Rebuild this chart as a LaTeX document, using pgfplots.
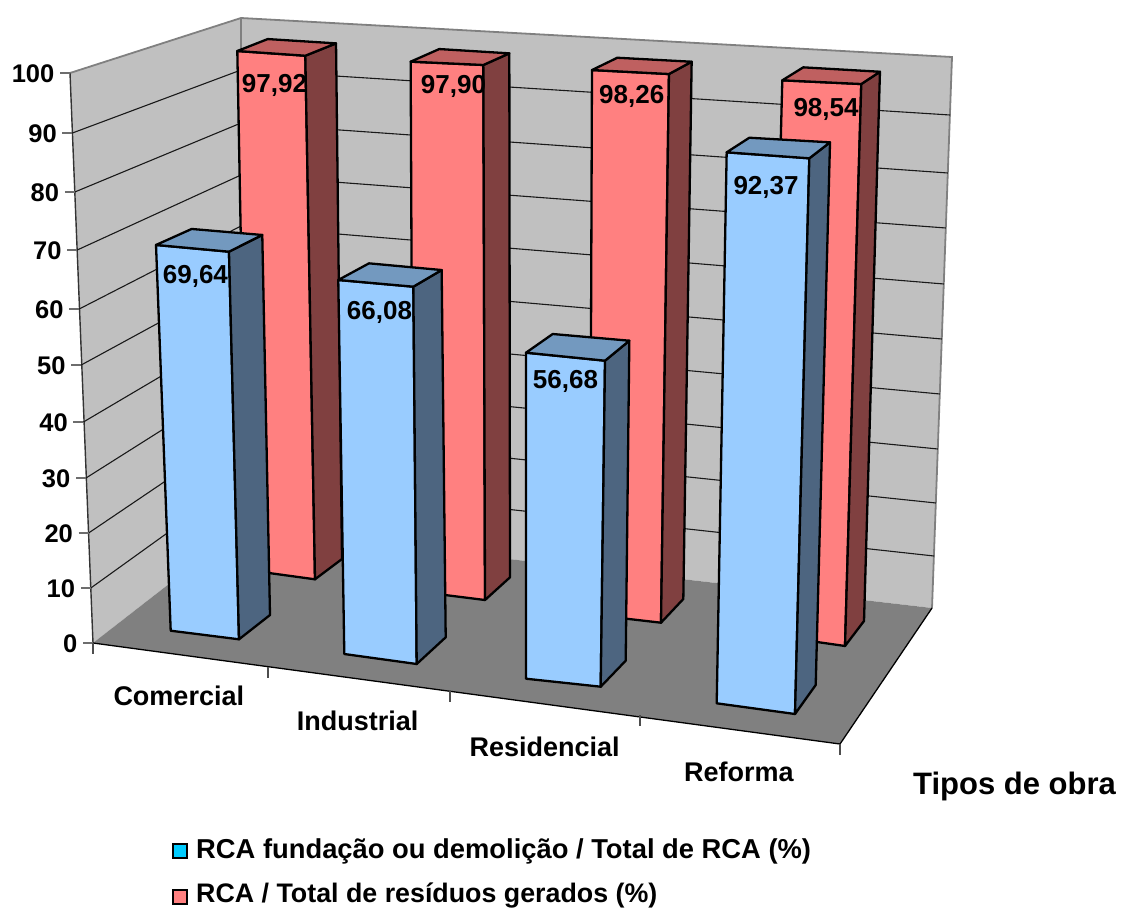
\documentclass[border=0pt]{standalone}
\usepackage{fontspec}
\setmainfont{Liberation Sans}
\usepackage{pgfplots}
\usepackage{pgfplotstable}
\pgfplotsset{compat=1.18}

% Percentages per type of work
\pgfplotstableread{
tipo        fundacao total
Comercial   69.64    97.92
Industrial  66.08    97.90
Residencial 56.68    98.26
Reforma     92.37    98.54
}\dados

\definecolor{parede}{HTML}{C0C0C0}
\definecolor{piso}{HTML}{808080}
\definecolor{azulF}{HTML}{99CCFF}
\definecolor{azulT}{HTML}{7399BF}
\definecolor{azulL}{HTML}{4D6580}
\definecolor{vermF}{HTML}{FF8080}
\definecolor{vermT}{HTML}{BF6060}
\definecolor{vermL}{HTML}{804040}
\definecolor{azulLeg}{HTML}{00CCFF}

% Bar corner: name, position on the floor, position at level 100.
% Defines \<name> (floor) and \<name>t (top of the bar at the current value \V).
\newcommand\canto[5]{%
  \pgfmathsetmacro\tmpx{#2+\V/100*(#4-#2)}%
  \pgfmathsetmacro\tmpy{#3+\V/100*(#5-#3)}%
  \expandafter\edef\csname #1\endcsname{(#2,#3)}%
  \expandafter\edef\csname #1t\endcsname{(\tmpx,\tmpy)}%
}
% Reads the value of a bar from the table
\newcommand\valor[2]{\pgfplotstablegetelem{#1}{#2}\of\dados\let\V\pgfplotsretval}
% Front, side and top faces of one bar
\newcommand\barra[3]{%
  \edef\faces{%
    \noexpand\addplot[fill=#1,draw=black,line width=2.3pt,line join=round] coordinates {\FL\FR\FRt\FLt} --cycle;
    \noexpand\addplot[fill=#3,draw=black,line width=2.3pt,line join=round] coordinates {\FR\BR\BRt\FRt} --cycle;
    \noexpand\addplot[fill=#2,draw=black,line width=2.3pt,line join=round] coordinates {\FLt\FRt\BRt\BLt} --cycle;
  }\faces
}
% Gridline around the two walls
\newcommand\nivel[5]{%
  \addplot[color=black!90,line width=1.1pt] coordinates {(#1,#2)(241,#3)(#4,#5)};
}
% Value axis tick and its label
\newcommand\marca[3]{%
  \addplot[color=piso!85!black,line width=1.3pt] coordinates {(#1-10,#2)(#1,#2)};
  \node[rotulotick,anchor=base east] at (axis cs:#1-15.5,#2+9) {#3};
}
% Category axis tick
\newcommand\marcax[2]{%
  \addplot[color=piso!60!black,line width=1.2pt] coordinates {(#1,#2)(#1,#2+11)};
}

\tikzset{
  rotulo/.style={inner sep=0pt,font=\fontsize{26}{30}\bfseries\selectfont},
  rotulotick/.style={inner sep=0pt,font=\fontsize{25.5}{30}\bfseries\selectfont},
  categoria/.style={inner sep=0pt,anchor=base west,font=\fontsize{27}{30}\bfseries\selectfont},
}

\begin{document}
\begin{tikzpicture}
\path[use as bounding box] (0,0) rectangle (1121pt,908pt);
\begin{axis}[
  at={(0,0)}, anchor=south west,
  scale only axis, width=1121pt, height=908pt,
  xmin=0, xmax=1121, ymin=0, ymax=908, y dir=reverse,
  hide axis, clip=false,
]
% walls and floor
\addplot[fill=parede,draw=none] coordinates {(70,73)(241,18)(241,528)(93,643)} --cycle;
\addplot[fill=parede,draw=none] coordinates {(241,18)(952,57)(932,608)(241,528)} --cycle;
\addplot[color=piso,line width=1.8pt] coordinates {(70,73)(241,18)(952,57)(932,608)};
\addplot[color=piso,line width=1.2pt] coordinates {(241,18)(241,528)};
\addplot[color=black!80,line width=1.4pt] coordinates {(70,73)(93,643)};

% gridlines at 90, 80, ..., 10
\nivel{72.4}{133}{70}{950}{115}
\nivel{74.8}{192}{123}{948}{173}
\nivel{77.2}{250}{175}{946}{228}
\nivel{79.2}{309}{226}{944}{284}
\nivel{81.2}{365}{278}{942}{339}
\nivel{83.4}{422}{329}{940}{394}
\nivel{86}{478}{380}{938}{449}
\nivel{88.6}{533}{430}{936}{503}
\nivel{90.8}{588}{480}{934}{556}

\addplot[fill=piso,draw=none] coordinates {(93,643)(840,744)(932,608)(241,528)} --cycle;
\addplot[color=black,line width=1.3pt] coordinates {(93,643)(840,744)(932,608)};

% value axis
\marca{70}{73}{100}
\marca{72.4}{133}{90}
\marca{74.8}{192}{80}
\marca{77.2}{250}{70}
\marca{79.2}{309}{60}
\marca{81.2}{365}{50}
\marca{83.4}{422}{40}
\marca{86}{478}{30}
\marca{88.6}{533}{20}
\marca{90.8}{588}{10}
\marca{93}{643}{0}

% category axis
\marcax{93}{643}
\marcax{268}{667}
\marcax{450}{691}
\marcax{640}{715}
\marcax{840}{744}

% back row
\valor{0}{total}
\canto{FL}{247}{570}{237.1}{40}
\canto{FR}{315}{579.3}{305.1}{44.6}
\canto{BR}{342}{559}{335.9}{32.4}
\canto{BL}{274}{549.7}{267.6}{28.2}
\barra{vermF}{vermT}{vermL}

\valor{1}{total}
\canto{FL}{413}{591}{410.6}{50.3}
\canto{FR}{485}{600}{483.3}{53.5}
\canto{BR}{510}{577.3}{509.3}{42.1}
\canto{BL}{438}{568.3}{439.3}{37.9}
\barra{vermF}{vermT}{vermL}

\valor{2}{total}
\canto{FL}{590}{614.5}{592}{60.4}
\canto{FR}{661}{622.7}{669.1}{64.3}
\canto{BR}{683.3}{599}{691.8}{52.2}
\canto{BL}{612.3}{590.8}{617.4}{48.3}
\barra{vermF}{vermT}{vermL}

\valor{3}{total}
\canto{FL}{768}{635}{782.5}{72.1}
\canto{FR}{845}{646}{861.5}{75.7}
\canto{BR}{864}{621}{880.2}{63.6}
\canto{BL}{787}{610}{803.5}{59.3}
\barra{vermF}{vermT}{vermL}

% front row
\valor{0}{fundacao}
\canto{FL}{170.7}{630.7}{149.6}{76.8}
\canto{FR}{239}{639.3}{224.6}{82.7}
\canto{BR}{270}{615}{258.9}{69.3}
\canto{BL}{201.7}{606.4}{187.3}{64.4}
\barra{azulF}{azulT}{azulL}

\valor{1}{fundacao}
\canto{FL}{344.3}{654}{335.2}{88}
\canto{FR}{416.7}{664}{411.6}{93}
\canto{BR}{445.7}{637.3}{439.6}{81.5}
\canto{BL}{373.3}{627.3}{366.8}{76.5}
\barra{azulF}{azulT}{azulL}

\valor{2}{fundacao}
\canto{FL}{526}{678.7}{526}{103.5}
\canto{FR}{600.7}{686.7}{608.3}{111.5}
\canto{BR}{625.7}{660.7}{632.1}{96.1}
\canto{BL}{551}{652.7}{554}{90.4}
\barra{azulF}{azulT}{azulL}

\valor{3}{fundacao}
\canto{FL}{716.7}{703.3}{727.5}{106.8}
\canto{FR}{795}{714}{810.5}{112.4}
\canto{BR}{815.7}{685}{831.2}{97.5}
\canto{BL}{737.4}{674.3}{750.3}{93.4}
\barra{azulF}{azulT}{azulL}

% data labels
\node[rotulo,anchor=base west] at (axis cs:241.7,92.7) {97,92};
\node[rotulo,anchor=base west] at (axis cs:420.7,93.3) {97,90};
\node[rotulo,anchor=base west] at (axis cs:599,103.3) {98,26};
\node[rotulo,anchor=base west] at (axis cs:793.3,116.7) {98,54};
\node[rotulo,anchor=base west] at (axis cs:162.7,283.3) {69,64};
\node[rotulo,anchor=base west] at (axis cs:346.7,319.3) {66,08};
\node[rotulo,anchor=base west] at (axis cs:532.7,388.3) {56,68};
\node[rotulo,anchor=base west] at (axis cs:733.3,194) {92,37};

% category names
\node[categoria] at (axis cs:113.3,705.7) {Comercial};
\node[categoria] at (axis cs:296.7,730) {Industrial};
\node[categoria] at (axis cs:469.3,756) {Residencial};
\node[categoria] at (axis cs:684,781.7) {Reforma};
\node[inner sep=0pt,anchor=base west,font=\fontsize{31}{36}\bfseries\selectfont] at (axis cs:913,794) {Tipos de obra};

% legend
\addplot[fill=azulLeg,draw=black,line width=1.8pt] coordinates {(173,844)(187,844)(187,858)(173,858)} --cycle;
\addplot[fill=vermF,draw=black,line width=1.8pt] coordinates {(173,890)(187,890)(187,904)(173,904)} --cycle;
\node[inner sep=0pt,anchor=base west,font=\fontsize{27.35}{30}\bfseries\selectfont] at (axis cs:196,858.5) {RCA fundação ou demolição / Total de RCA (\%)};
\node[inner sep=0pt,anchor=base west,font=\fontsize{26.8}{30}\bfseries\selectfont] at (axis cs:196,902.3) {RCA / Total de resíduos gerados (\%)};
\end{axis}
\end{tikzpicture}
\end{document}
